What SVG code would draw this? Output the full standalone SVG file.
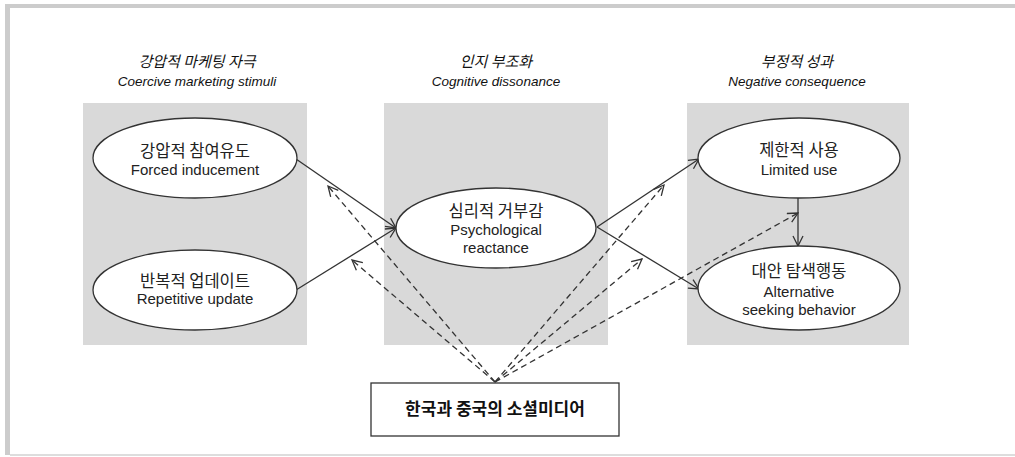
<svg xmlns="http://www.w3.org/2000/svg" width="1015" height="457" viewBox="0 0 1015 457">
<style>
.panel{fill:#d9d9d9;stroke:none}
.node{fill:#ffffff;stroke:#333333;stroke-width:1.3}
.ko{font-family:"Noto Sans CJK KR","Noto Sans",sans-serif;font-size:16.5px;fill:#222;text-anchor:middle}
.en{font-family:"Liberation Sans","Noto Sans",sans-serif;font-size:15px;fill:#222;text-anchor:middle}
.hko{font-family:"Noto Sans CJK KR",sans-serif;font-size:15px;font-style:italic;fill:#111;text-anchor:middle}
.hen{font-family:"Liberation Sans",sans-serif;font-size:13.5px;font-style:italic;fill:#111;text-anchor:middle}
.solid{stroke:#333;stroke-width:1.3;fill:none;marker-end:url(#arr)}
.dash{stroke:#333;stroke-width:1.3;fill:none;stroke-dasharray:6 4;marker-end:url(#arr)}
</style>
<defs>
<marker id="arr" viewBox="0 0 12 12" refX="11" refY="6" markerWidth="12" markerHeight="12" markerUnits="userSpaceOnUse" orient="auto">
<path d="M1,1 L11,6 L1,11" fill="none" stroke="#333" stroke-width="1.3"/>
</marker>
</defs>
<rect width="1015" height="457" fill="#ffffff"/>
<g id="frame">
<rect x="5" y="4" width="1010" height="4" fill="#cccccc"/>
<rect x="5" y="4" width="5" height="451" fill="#cccccc"/>
<rect x="10" y="454" width="1005" height="2" fill="#dddddd"/>
</g>
<g id="panels">
<rect class="panel" x="83" y="103" width="224" height="242"/>
<rect class="panel" x="384" y="103" width="224" height="242"/>
<rect class="panel" x="687" y="103" width="222" height="242"/>
</g>
<g id="headers">
<text class="hko" x="197" y="67">강압적 마케팅 자극</text>
<text class="hen" x="197" y="86">Coercive marketing stimuli</text>
<text class="hko" x="496" y="67">인지 부조화</text>
<text class="hen" x="496" y="86">Cognitive dissonance</text>
<text class="hko" x="797" y="67">부정적 성과</text>
<text class="hen" x="797" y="86">Negative consequence</text>
</g>
<g id="connectors">
<line class="solid" x1="296" y1="159" x2="396" y2="228"/>
<line class="solid" x1="296" y1="290" x2="396" y2="228"/>
<line class="solid" x1="597" y1="227" x2="699" y2="159"/>
<line class="solid" x1="597" y1="227" x2="699" y2="289"/>
<line class="solid" x1="798" y1="198" x2="798" y2="246"/>
<line class="dash" x1="495" y1="382" x2="328" y2="186"/>
<line class="dash" x1="495" y1="382" x2="352" y2="260"/>
<line class="dash" x1="495" y1="382" x2="664" y2="185"/>
<line class="dash" x1="495" y1="382" x2="642" y2="259"/>
<line class="dash" x1="495" y1="382" x2="798" y2="213"/>
</g>
<g id="n1">
<ellipse class="node" cx="195" cy="158" rx="102" ry="40"/>
<text class="ko" x="195" y="157">강압적 참여유도</text>
<text class="en" x="195" y="175">Forced inducement</text>
</g>
<g id="n2">
<ellipse class="node" cx="195" cy="290" rx="102" ry="40"/>
<text class="ko" x="195" y="287">반복적 업데이트</text>
<text class="en" x="195" y="304">Repetitive update</text>
</g>
<g id="n3">
<ellipse class="node" cx="496" cy="228" rx="100" ry="40"/>
<text class="ko" x="496" y="217">심리적 거부감</text>
<text class="en" x="496" y="235">Psychological</text>
<text class="en" x="496" y="253">reactance</text>
</g>
<g id="n4">
<ellipse class="node" cx="799" cy="158" rx="101" ry="40"/>
<text class="ko" x="799" y="156">제한적 사용</text>
<text class="en" x="799" y="175">Limited use</text>
</g>
<g id="n5">
<ellipse class="node" cx="799" cy="288" rx="101" ry="42"/>
<text class="ko" x="799" y="277">대안 탐색행동</text>
<text class="en" x="799" y="297">Alternative</text>
<text class="en" x="799" y="315">seeking behavior</text>
</g>
<g id="n6">
<rect x="371" y="383" width="248" height="53" fill="#ffffff" stroke="#333" stroke-width="1.3"/>
<text x="495" y="415" font-family="'Noto Sans CJK KR',sans-serif" font-size="17" font-weight="bold" fill="#111" text-anchor="middle">한국과 중국의 소셜미디어</text>
</g>
</svg>
